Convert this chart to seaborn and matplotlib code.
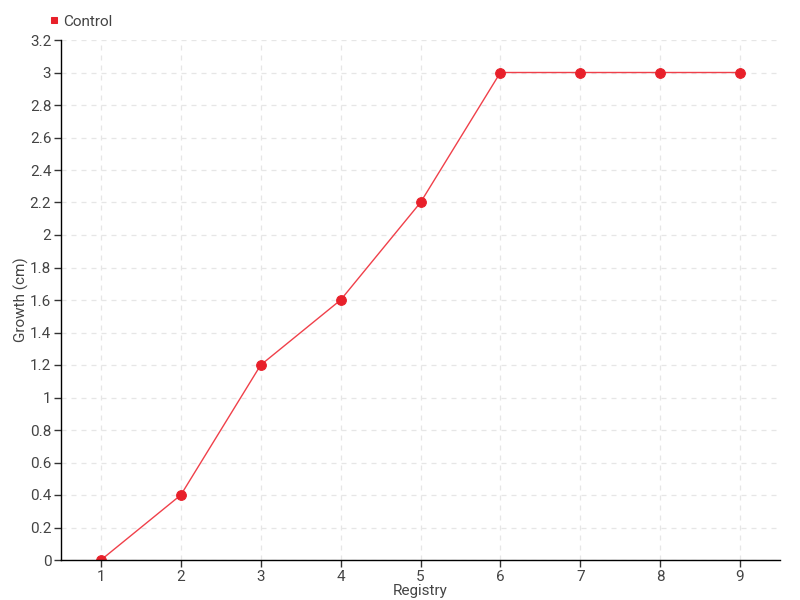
import numpy as np
import pandas as pd
import matplotlib
matplotlib.use("Agg")
import matplotlib.pyplot as plt
import seaborn as sns
from matplotlib import font_manager

# data
registry = [1, 2, 3, 4, 5, 6, 7, 8, 9]
growth = [0, 0.4, 1.2, 1.6, 2.2, 3, 3, 3, 3]
y_ticks = [0, 0.2, 0.4, 0.6, 0.8, 1, 1.2, 1.4, 1.6, 1.8, 2, 2.2, 2.4, 2.6, 2.8, 3, 3.2]

df = pd.DataFrame({"Registry": registry, "Growth (cm)": growth})

sns.set_style("white")
names = {f.name for f in font_manager.fontManager.ttflist}
fam = "Liberation Sans Narrow" if "Liberation Sans Narrow" in names else "Roboto"
plt.rcParams['font.family'] = [fam, 'DejaVu Sans']

txt = "#444444"
fig = plt.figure(figsize=(8, 6), dpi=100)
ax = fig.add_axes([61 / 800, 40 / 600, 719 / 800, 520 / 600])

sns.lineplot(data=df, x="Registry", y="Growth (cm)", ax=ax, color="#f0404a",
             linewidth=1, marker="o", markersize=7, markerfacecolor="#e8202a",
             markeredgecolor="#e8202a", label="Control", legend=False)

ax.set_xlim(0.5, 9.5)
ax.set_ylim(0, 3.2)
ax.set_xticks(registry)
ax.set_yticks(y_ticks)
ax.set_yticklabels([f"{v:g}" for v in y_ticks])
ax.grid(True, color="#e6e6e6", linestyle=(0, (4, 4)), linewidth=0.9)
for s in ["top", "right"]:
    ax.spines[s].set_visible(False)
for s in ["left", "bottom"]:
    ax.spines[s].set_color("black")
    ax.spines[s].set_linewidth(1)
ax.tick_params(axis="both", direction="out", length=5, width=1, color="#333333",
               labelsize=11, labelcolor=txt, pad=2, left=True, bottom=True)
ax.set_xlabel("Registry", fontsize=11, color=txt, labelpad=0)
ax.set_ylabel("Growth (cm)", fontsize=11, color=txt)
ax.yaxis.set_label_coords(-0.045, 0.5)

ax.legend(["Control"], loc="lower left", bbox_to_anchor=(-0.025, 1.01), frameon=False,
          handlelength=0.6, handletextpad=0.3, fontsize=11, labelcolor=txt,
          markerscale=0.8, borderaxespad=0)
h = ax.get_legend().legend_handles[0]
h.set_linestyle("None")
h.set_marker("s")
h.set_markersize(5)

fig.savefig("out.png", dpi=100)
